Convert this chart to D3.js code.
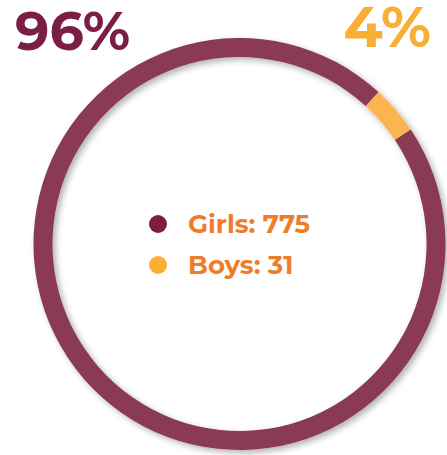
<!DOCTYPE html>
<html>
<head>
<meta charset="utf-8">
<script src="https://cdn.jsdelivr.net/npm/d3@7"></script>
<style>
  html, body { margin: 0; padding: 0; background: #fff; }
  #chart { width: 447px; height: 455px; }
</style>
</head>
<body>
<div id="chart"></div>
<script>
var categories = ["Boys", "Girls"];
var counts = [31, 775];
var percentLabels = ["4%", "96%"];
var ringColors = ["#fbb44f", "#8a3a52"];
var dotColors = ["#fbae33", "#7d1d44"];
var legendOrder = ["Girls", "Boys"];

function drawChart() {
  var container = d3.select("#chart");
  var width = 447;
  var height = 455;

  container.selectAll("*").remove();
  var svg = container
    .append("svg")
    .attr("width", width)
    .attr("height", height);

  var defs = svg.append("defs");
  defs.append("filter")
    .attr("id", "shadow")
    .attr("x", "-20%").attr("y", "-20%")
    .attr("width", "140%").attr("height", "140%")
    .append("feDropShadow")
    .attr("dx", 3)
    .attr("dy", 3)
    .attr("stdDeviation", 3)
    .attr("flood-color", "#000")
    .attr("flood-opacity", 0.3);

  var cx = 239.5, cy = 244;
  var start = 42.4 * Math.PI / 180;

  var pie = d3.pie()
    .sort(null)
    .startAngle(start)
    .endAngle(start + 2 * Math.PI);

  var arc = d3.arc()
    .innerRadius(187)
    .outerRadius(206);

  var g = svg.append("g")
    .attr("transform", "translate(" + cx + "," + cy + ")")
    .attr("filter", "url(#shadow)");

  g.selectAll("path")
    .data(pie(counts))
    .enter()
    .append("path")
    .attr("d", arc)
    .attr("fill", (d, i) => ringColors[i]);

  // big percentages
  svg.append("text")
    .text(percentLabels[1])
    .attr("x", 15)
    .attr("y", 50)
    .attr("font-family", "Montserrat, 'DejaVu Sans', sans-serif")
    .attr("font-weight", "bold")
    .attr("font-size", 54)
    .attr("fill", "#7b1e45");

  svg.append("text")
    .text(percentLabels[0])
    .attr("x", 431)
    .attr("y", 47)
    .attr("text-anchor", "end")
    .attr("font-family", "Montserrat, 'DejaVu Sans', sans-serif")
    .attr("font-weight", "bold")
    .attr("font-size", 57)
    .attr("fill", "#f9ae35");

  // legend
  var legendY = d3.scalePoint()
    .domain(legendOrder)
    .range([224, 265]);

  var leg = svg.selectAll(".leg")
    .data(legendOrder)
    .enter()
    .append("g")
    .attr("class", "leg")
    .attr("transform", d => "translate(0," + legendY(d) + ")");

  leg.append("circle")
    .attr("cx", 158)
    .attr("cy", 0)
    .attr("r", 9)
    .attr("fill", d => dotColors[categories.indexOf(d)]);

  leg.append("text")
    .attr("x", 188)
    .attr("y", 8.5)
    .attr("font-family", "Montserrat, 'DejaVu Sans', sans-serif")
    .attr("font-weight", "bold")
    .attr("font-size", 26)
    .attr("fill", "#f07c2a")
    .text(d => d + ": " + counts[categories.indexOf(d)]);
}

drawChart();
</script>
</body>
</html>
